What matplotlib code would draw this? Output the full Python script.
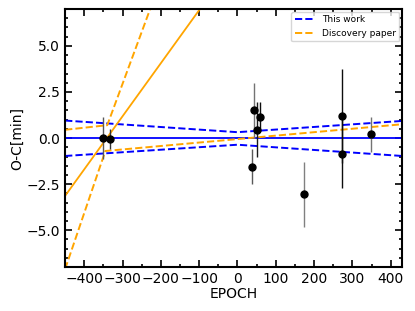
import numpy as np
import matplotlib
matplotlib.use("Agg")
import matplotlib.pyplot as plt

plt.rcParams.update({
    "font.family": "DejaVu Sans",
    "font.size": 10,
    "xtick.direction": "in",
    "ytick.direction": "in",
    "xtick.top": True,
    "ytick.right": True,
})

# timing points
epoch = [-352, -333, 38, 43, 51, 58, 175, 272, 272, 349]
oc = [0.0, -0.05, -1.55, 1.5, 0.45, 1.17, -3.05, 1.2, -0.85, 0.22]
oc_err = [1.15, 0.55, 0.95, 1.5, 1.5, 0.8, 1.75, 2.55, 1.85, 0.95]
err_col = ["0.35", "0.2", "0.35", "0.45", "0.1", "0.05", "0.5", "0.05", "0.05", "0.45"]

# this work: linear ephemeris and its envelope
tw_epoch = [-450, 0, 430]
tw_upper = [0.95, 0.32, 0.93]
tw_lower = [-0.97, -0.36, -0.97]

# discovery paper ephemeris and its envelope
dp_epoch = [-450, -98]
dp_line = [-3.13, 7.0]
dp_up_epoch = [-450, -340, -228]
dp_upper = [0.45, 0.7, 7.0]
dp_lo_epoch = [-450, -345, 430]
dp_lower = [-7.1, -0.7, 0.75]

fig, ax = plt.subplots(figsize=(4.15, 3.11), dpi=100)
fig.subplots_adjust(left=0.157, right=0.969, top=0.971, bottom=0.141)

ax.axhline(0, color="blue", lw=1.3)
ax.plot(tw_epoch, tw_upper, "--", color="blue", lw=1.4, label="This work")
ax.plot(tw_epoch, tw_lower, "--", color="blue", lw=1.4)

ax.plot(dp_epoch, dp_line, "-", color="orange", lw=1.3)
ax.plot(dp_up_epoch, dp_upper, "--", color="orange", lw=1.4, label="Discovery paper")
ax.plot(dp_lo_epoch, dp_lower, "--", color="orange", lw=1.4)

for e, y, s, c in zip(epoch, oc, oc_err, err_col):
    ax.errorbar(e, y, yerr=s, fmt="o", color="k", ecolor=c, ms=5, elinewidth=1, zorder=5)

ax.set_xlim(-450, 430)
ax.set_ylim(-7, 7)
ax.set_xticks(np.arange(-400, 401, 100))
ax.set_yticks([-5.0, -2.5, 0.0, 2.5, 5.0])
ax.minorticks_on()
ax.xaxis.set_minor_locator(matplotlib.ticker.MultipleLocator(50))
ax.yaxis.set_minor_locator(matplotlib.ticker.MultipleLocator(0.5))
ax.tick_params(which="major", length=5, width=1.2)
ax.tick_params(which="minor", length=2.5, width=1.2)
for sp in ax.spines.values():
    sp.set_linewidth(1.5)

ax.set_xlabel("EPOCH", labelpad=1)
ax.set_ylabel("O-C[min]", labelpad=2)
ax.legend(loc="upper right", fontsize=6.5, handlelength=2.2, borderaxespad=0.3)

fig.savefig("out.png", dpi=100)
